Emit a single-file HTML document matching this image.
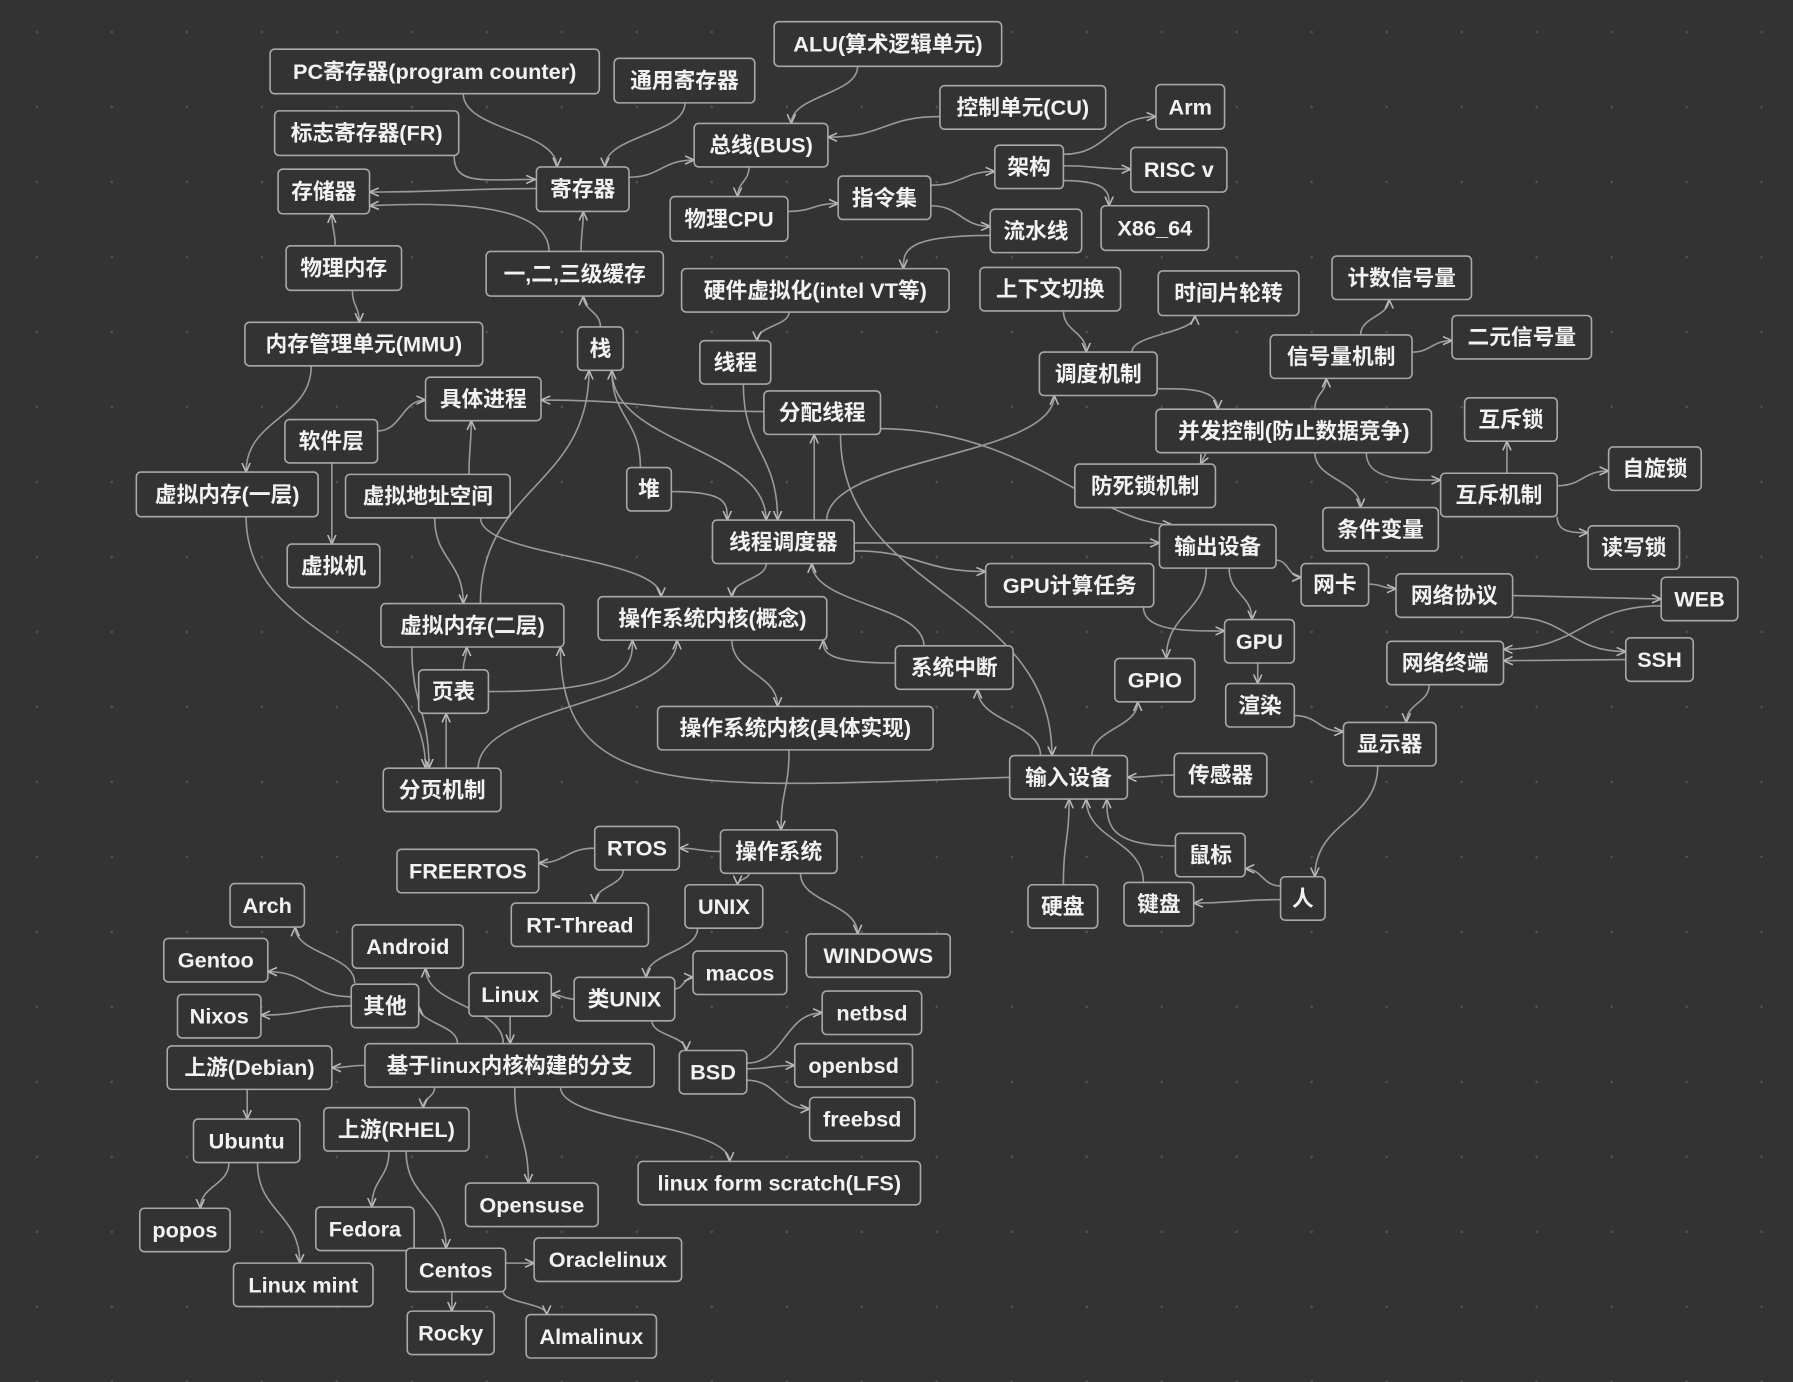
<!DOCTYPE html>
<html><head><meta charset="utf-8">
<style>
html,body{margin:0;padding:0;background:#333333;}
svg{display:block;}
.n rect{fill:#333333;stroke:#a8a8a8;stroke-width:1.4;}
.n text{fill:#f2f2f2;font-family:"Liberation Sans","Noto Sans CJK SC",sans-serif;font-size:19px;font-weight:bold;text-anchor:middle;dominant-baseline:central;}
.e path{fill:none;stroke:#9a9a9a;stroke-width:1.4;}
</style></head>
<body>
<svg width="1793" height="1382" viewBox="0 0 1568 1209" xmlns="http://www.w3.org/2000/svg">
<defs>
<pattern id="dots" width="65.6" height="65.6" patternUnits="userSpaceOnUse" x="-1" y="-5">
<circle cx="33" cy="33" r="1.1" fill="#555"/>
</pattern>
<marker id="ar" viewBox="0 0 10 10" refX="9" refY="5" markerWidth="9" markerHeight="9" markerUnits="userSpaceOnUse" orient="auto">
<path d="M0,1 L9,5 L0,9" fill="none" stroke="#bbb" stroke-width="1.5"/>
</marker>
</defs>
<rect width="1568" height="1209" fill="#333333"/>
<rect width="1568" height="1209" fill="url(#dots)"/>
<g class="e" marker-end="url(#ar)">
<path marker-end="url(#ar)" d="M405 82 C405 114 487 114 487 146"/>
<path marker-end="url(#ar)" d="M599 90 C599 118 529 118 529 146"/>
<path marker-end="url(#ar)" d="M397 136 C397 162 420 157 468 157"/>
<path marker-end="url(#ar)" d="M469 165 C396 165 396 168 323 168"/>
<path marker-end="url(#ar)" d="M480 220 C480 185 420 175 323 180"/>
<path marker-end="url(#ar)" d="M508 220 C508 202 510 202 510 185"/>
<path marker-end="url(#ar)" d="M550 155 C578 155 578 140 607 140"/>
<path marker-end="url(#ar)" d="M750 58 C750 83 692 83 692 108"/>
<path marker-end="url(#ar)" d="M822 102 C773 102 773 120 724 120"/>
<path marker-end="url(#ar)" d="M655 146 C655 159 645 159 645 172"/>
<path marker-end="url(#ar)" d="M689 185 C711 185 711 178 733 178"/>
<path marker-end="url(#ar)" d="M814 162 C842 162 842 150 870 150"/>
<path marker-end="url(#ar)" d="M814 180 C840 180 840 198 866 198"/>
<path marker-end="url(#ar)" d="M930 135 C970 135 970 102 1011 102"/>
<path marker-end="url(#ar)" d="M930 145 C959 145 959 148 989 148"/>
<path marker-end="url(#ar)" d="M930 158 C970 158 970 169 970 180"/>
<path marker-end="url(#ar)" d="M866 206 C790 206 790 220 790 235"/>
<path marker-end="url(#ar)" d="M293 215 C293 201 290 201 290 187"/>
<path marker-end="url(#ar)" d="M308 254 C308 268 314 268 314 282"/>
<path marker-end="url(#ar)" d="M525 286 C525 272 510 272 510 259"/>
<path marker-end="url(#ar)" d="M690 273 C690 285 662 285 662 298"/>
<path marker-end="url(#ar)" d="M272 320 C272 366 215 366 215 413"/>
<path marker-end="url(#ar)" d="M330 377 C351 377 351 350 372 350"/>
<path marker-end="url(#ar)" d="M290 405 L290 476"/>
<path marker-end="url(#ar)" d="M668 360 C570 360 570 350 473 350"/>
<path marker-end="url(#ar)" d="M410 415 C410 391 412 391 412 368"/>
<path marker-end="url(#ar)" d="M930 272 C930 290 950 290 950 308"/>
<path marker-end="url(#ar)" d="M990 308 C990 292 1045 292 1045 276"/>
<path marker-end="url(#ar)" d="M1190 293 C1190 277 1215 277 1215 262"/>
<path marker-end="url(#ar)" d="M1235 308 C1252 308 1252 298 1270 298"/>
<path marker-end="url(#ar)" d="M1012 340 C1040 340 1065 340 1065 358"/>
<path marker-end="url(#ar)" d="M1150 358 C1150 344 1160 344 1160 331"/>
<path marker-end="url(#ar)" d="M1055 396 L1050 406"/>
<path marker-end="url(#ar)" d="M1195 396 C1195 420 1227 420 1260 420"/>
<path marker-end="url(#ar)" d="M1150 396 C1150 420 1190 420 1190 444"/>
<path marker-end="url(#ar)" d="M1318 414 L1318 386"/>
<path marker-end="url(#ar)" d="M1362 425 C1384 425 1384 412 1407 412"/>
<path marker-end="url(#ar)" d="M1362 452 C1362 466 1375 466 1389 466"/>
<path marker-end="url(#ar)" d="M723 455 C723 400 922 400 922 346"/>
<path marker-end="url(#ar)" d="M712 455 L712 380"/>
<path marker-end="url(#ar)" d="M650 336 C650 395 680 395 680 455"/>
<path marker-end="url(#ar)" d="M535 324 C535 390 670 390 670 455"/>
<path marker-end="url(#ar)" d="M587 430 C636 430 636 440 636 455"/>
<path marker-end="url(#ar)" d="M560 409 C560 366 535 366 535 324"/>
<path marker-end="url(#ar)" d="M735 380 C735 520 920 520 920 661"/>
<path marker-end="url(#ar)" d="M747 475 L1014 475"/>
<path marker-end="url(#ar)" d="M747 482 C804 482 804 500 862 500"/>
<path marker-end="url(#ar)" d="M770 375 C897 375 960 459 1025 459"/>
<path marker-end="url(#ar)" d="M1116 490 C1127 490 1127 505 1138 505"/>
<path marker-end="url(#ar)" d="M1075 497 C1075 520 1095 520 1095 542"/>
<path marker-end="url(#ar)" d="M1055 497 C1055 536 1020 536 1020 576"/>
<path marker-end="url(#ar)" d="M1000 531 C1000 552 1035 552 1071 552"/>
<path marker-end="url(#ar)" d="M1197 511 C1209 511 1209 515 1221 515"/>
<path marker-end="url(#ar)" d="M1323 521 L1453 524"/>
<path marker-end="url(#ar)" d="M1323 540 C1372 540 1372 570 1422 570"/>
<path marker-end="url(#ar)" d="M1453 530 C1384 530 1384 568 1315 568"/>
<path marker-end="url(#ar)" d="M1422 577 L1315 578"/>
<path marker-end="url(#ar)" d="M1250 599 C1250 615 1230 615 1230 632"/>
<path marker-end="url(#ar)" d="M1100 580 L1100 598"/>
<path marker-end="url(#ar)" d="M1132 626 C1153 626 1153 640 1175 640"/>
<path marker-end="url(#ar)" d="M1205 670 C1205 718 1150 718 1150 767"/>
<path marker-end="url(#ar)" d="M1120 775 C1104 775 1104 760 1089 760"/>
<path marker-end="url(#ar)" d="M1120 787 C1082 787 1082 790 1044 790"/>
<path marker-end="url(#ar)" d="M1028 740 C968 740 968 720 968 699"/>
<path marker-end="url(#ar)" d="M1000 772 C1000 735 950 735 950 699"/>
<path marker-end="url(#ar)" d="M930 774 C930 736 935 736 935 699"/>
<path marker-end="url(#ar)" d="M1027 678 C1006 678 1006 680 986 680"/>
<path marker-end="url(#ar)" d="M955 661 C955 637 995 637 995 614"/>
<path marker-end="url(#ar)" d="M910 661 C910 632 855 632 855 603"/>
<path marker-end="url(#ar)" d="M808 565 C808 529 710 529 710 493"/>
<path marker-end="url(#ar)" d="M783 580 C720 580 720 570 720 560"/>
<path marker-end="url(#ar)" d="M883 680 C600 690 490 700 490 566"/>
<path marker-end="url(#ar)" d="M670 493 C670 507 640 507 640 522"/>
<path marker-end="url(#ar)" d="M420 453 C420 487 578 487 578 522"/>
<path marker-end="url(#ar)" d="M640 560 C640 589 680 589 680 618"/>
<path marker-end="url(#ar)" d="M690 656 C690 691 683 691 683 726"/>
<path marker-end="url(#ar)" d="M630 745 C612 745 612 742 594 742"/>
<path marker-end="url(#ar)" d="M520 742 C495 742 495 755 471 755"/>
<path marker-end="url(#ar)" d="M545 761 C545 775 520 775 520 790"/>
<path marker-end="url(#ar)" d="M655 764 C655 769 645 769 645 774"/>
<path marker-end="url(#ar)" d="M700 764 C700 790 750 790 750 817"/>
<path marker-end="url(#ar)" d="M610 812 C610 833 565 833 565 855"/>
<path marker-end="url(#ar)" d="M590 865 C598 865 598 855 606 855"/>
<path marker-end="url(#ar)" d="M502 874 C492 874 492 870 482 870"/>
<path marker-end="url(#ar)" d="M570 893 C570 906 600 906 600 919"/>
<path marker-end="url(#ar)" d="M653 930 C686 930 686 886 719 886"/>
<path marker-end="url(#ar)" d="M653 935 C674 935 674 932 695 932"/>
<path marker-end="url(#ar)" d="M653 945 C680 945 680 970 708 970"/>
<path marker-end="url(#ar)" d="M446 889 L446 913"/>
<path marker-end="url(#ar)" d="M400 913 C400 896 366 896 366 880"/>
<path marker-end="url(#ar)" d="M440 913 C440 880 372 880 372 847"/>
<path marker-end="url(#ar)" d="M310 860 C310 835 258 835 258 811"/>
<path marker-end="url(#ar)" d="M307 872 C270 872 270 850 234 850"/>
<path marker-end="url(#ar)" d="M307 880 C267 880 267 888 228 888"/>
<path marker-end="url(#ar)" d="M319 932 C304 932 304 934 290 934"/>
<path marker-end="url(#ar)" d="M380 951 C380 960 370 960 370 969"/>
<path marker-end="url(#ar)" d="M450 951 C450 993 462 993 462 1035"/>
<path marker-end="url(#ar)" d="M490 951 C490 983 638 983 638 1016"/>
<path marker-end="url(#ar)" d="M216 953 L216 979"/>
<path marker-end="url(#ar)" d="M200 1017 C200 1037 175 1037 175 1057"/>
<path marker-end="url(#ar)" d="M225 1017 C225 1061 262 1061 262 1105"/>
<path marker-end="url(#ar)" d="M340 1007 C340 1031 325 1031 325 1056"/>
<path marker-end="url(#ar)" d="M355 1007 C355 1049 390 1049 390 1092"/>
<path marker-end="url(#ar)" d="M442 1105 L467 1105"/>
<path marker-end="url(#ar)" d="M395 1130 L395 1147"/>
<path marker-end="url(#ar)" d="M440 1130 C440 1140 478 1140 478 1150"/>
<path marker-end="url(#ar)" d="M405 586 C405 576 408 576 408 566"/>
<path marker-end="url(#ar)" d="M390 672 L390 624"/>
<path marker-end="url(#ar)" d="M427 605 C553 605 553 582 553 560"/>
<path marker-end="url(#ar)" d="M418 672 C418 616 592 616 592 560"/>
<path marker-end="url(#ar)" d="M420 528 C420 426 515 426 515 324"/>
<path marker-end="url(#ar)" d="M215 452 C215 562 372 562 372 672"/>
<path marker-end="url(#ar)" d="M380 453 C380 490 405 490 405 528"/>
<path marker-end="url(#ar)" d="M360 566 C360 619 375 619 375 672"/>
</g>
<g>
<g class="n"><rect x="677" y="19" width="199" height="39" rx="4"/><text x="776.5" y="38.5">ALU(算术逻辑单元)</text></g>
<g class="n"><rect x="236" y="43" width="288" height="39" rx="4"/><text x="380" y="62.5">PC寄存器(program counter)</text></g>
<g class="n"><rect x="537" y="51" width="123" height="39" rx="4"/><text x="598.5" y="70.5">通用寄存器</text></g>
<g class="n"><rect x="822" y="75" width="145" height="38" rx="4"/><text x="894.5" y="94">控制单元(CU)</text></g>
<g class="n"><rect x="1011" y="74" width="60" height="39" rx="4"/><text x="1041" y="93.5">Arm</text></g>
<g class="n"><rect x="240" y="97" width="161" height="39" rx="4"/><text x="320.5" y="116.5">标志寄存器(FR)</text></g>
<g class="n"><rect x="607" y="108" width="117" height="38" rx="4"/><text x="665.5" y="127">总线(BUS)</text></g>
<g class="n"><rect x="870" y="127" width="60" height="38" rx="4"/><text x="900" y="146">架构</text></g>
<g class="n"><rect x="989" y="129" width="84" height="39" rx="4"/><text x="1031" y="148.5">RISC v</text></g>
<g class="n"><rect x="243" y="148" width="80" height="39" rx="4"/><text x="283" y="167.5">存储器</text></g>
<g class="n"><rect x="469" y="146" width="81" height="39" rx="4"/><text x="509.5" y="165.5">寄存器</text></g>
<g class="n"><rect x="733" y="154" width="81" height="38" rx="4"/><text x="773.5" y="173">指令集</text></g>
<g class="n"><rect x="586" y="172" width="103" height="39" rx="4"/><text x="637.5" y="191.5">物理CPU</text></g>
<g class="n"><rect x="866" y="183" width="80" height="38" rx="4"/><text x="906" y="202">流水线</text></g>
<g class="n"><rect x="963" y="180" width="94" height="39" rx="4"/><text x="1010" y="199.5">X86_64</text></g>
<g class="n"><rect x="250" y="215" width="101" height="39" rx="4"/><text x="300.5" y="234.5">物理内存</text></g>
<g class="n"><rect x="425" y="220" width="155" height="39" rx="4"/><text x="502.5" y="239.5">一,二,三级缓存</text></g>
<g class="n"><rect x="596" y="235" width="234" height="38" rx="4"/><text x="713" y="254">硬件虚拟化(intel VT等)</text></g>
<g class="n"><rect x="857" y="234" width="123" height="38" rx="4"/><text x="918.5" y="253">上下文切换</text></g>
<g class="n"><rect x="1013" y="237" width="123" height="39" rx="4"/><text x="1074.5" y="256.5">时间片轮转</text></g>
<g class="n"><rect x="1165" y="224" width="122" height="38" rx="4"/><text x="1226" y="243">计数信号量</text></g>
<g class="n"><rect x="214" y="282" width="208" height="38" rx="4"/><text x="318" y="301">内存管理单元(MMU)</text></g>
<g class="n"><rect x="505" y="286" width="40" height="38" rx="4"/><text x="525" y="305">栈</text></g>
<g class="n"><rect x="612" y="298" width="62" height="38" rx="4"/><text x="643" y="317">线程</text></g>
<g class="n"><rect x="1111" y="293" width="124" height="38" rx="4"/><text x="1173" y="312">信号量机制</text></g>
<g class="n"><rect x="1270" y="276" width="122" height="38" rx="4"/><text x="1331" y="295">二元信号量</text></g>
<g class="n"><rect x="909" y="308" width="103" height="38" rx="4"/><text x="960.5" y="327">调度机制</text></g>
<g class="n"><rect x="372" y="330" width="101" height="38" rx="4"/><text x="422.5" y="349">具体进程</text></g>
<g class="n"><rect x="668" y="342" width="102" height="38" rx="4"/><text x="719" y="361">分配线程</text></g>
<g class="n"><rect x="249" y="367" width="81" height="38" rx="4"/><text x="289.5" y="386">软件层</text></g>
<g class="n"><rect x="1011" y="358" width="241" height="38" rx="4"/><text x="1131.5" y="377">并发控制(防止数据竞争)</text></g>
<g class="n"><rect x="1281" y="348" width="81" height="38" rx="4"/><text x="1321.5" y="367">互斥锁</text></g>
<g class="n"><rect x="119" y="413" width="159" height="39" rx="4"/><text x="198.5" y="432.5">虚拟内存(一层)</text></g>
<g class="n"><rect x="302" y="415" width="144" height="38" rx="4"/><text x="374" y="434">虚拟地址空间</text></g>
<g class="n"><rect x="548" y="409" width="39" height="38" rx="4"/><text x="567.5" y="428">堆</text></g>
<g class="n"><rect x="940" y="406" width="123" height="38" rx="4"/><text x="1001.5" y="425">防死锁机制</text></g>
<g class="n"><rect x="1407" y="391" width="81" height="38" rx="4"/><text x="1447.5" y="410">自旋锁</text></g>
<g class="n"><rect x="1260" y="414" width="102" height="38" rx="4"/><text x="1311" y="433">互斥机制</text></g>
<g class="n"><rect x="1157" y="444" width="101" height="38" rx="4"/><text x="1207.5" y="463">条件变量</text></g>
<g class="n"><rect x="623" y="455" width="124" height="38" rx="4"/><text x="685" y="474">线程调度器</text></g>
<g class="n"><rect x="1014" y="459" width="102" height="38" rx="4"/><text x="1065" y="478">输出设备</text></g>
<g class="n"><rect x="1389" y="460" width="80" height="38" rx="4"/><text x="1429" y="479">读写锁</text></g>
<g class="n"><rect x="251" y="476" width="81" height="38" rx="4"/><text x="291.5" y="495">虚拟机</text></g>
<g class="n"><rect x="862" y="493" width="147" height="38" rx="4"/><text x="935.5" y="512">GPU计算任务</text></g>
<g class="n"><rect x="1138" y="493" width="59" height="37" rx="4"/><text x="1167.5" y="511.5">网卡</text></g>
<g class="n"><rect x="1221" y="502" width="102" height="38" rx="4"/><text x="1272" y="521">网络协议</text></g>
<g class="n"><rect x="1453" y="505" width="67" height="38" rx="4"/><text x="1486.5" y="524">WEB</text></g>
<g class="n"><rect x="523" y="522" width="200" height="38" rx="4"/><text x="623" y="541">操作系统内核(概念)</text></g>
<g class="n"><rect x="333" y="528" width="160" height="38" rx="4"/><text x="413" y="547">虚拟内存(二层)</text></g>
<g class="n"><rect x="1071" y="542" width="61" height="38" rx="4"/><text x="1101.5" y="561">GPU</text></g>
<g class="n"><rect x="1422" y="558" width="59" height="38" rx="4"/><text x="1451.5" y="577">SSH</text></g>
<g class="n"><rect x="1213" y="561" width="102" height="38" rx="4"/><text x="1264" y="580">网络终端</text></g>
<g class="n"><rect x="783" y="565" width="103" height="38" rx="4"/><text x="834.5" y="584">系统中断</text></g>
<g class="n"><rect x="975" y="576" width="70" height="38" rx="4"/><text x="1010" y="595">GPIO</text></g>
<g class="n"><rect x="366" y="586" width="61" height="38" rx="4"/><text x="396.5" y="605">页表</text></g>
<g class="n"><rect x="1072" y="598" width="60" height="38" rx="4"/><text x="1102" y="617">渲染</text></g>
<g class="n"><rect x="575" y="618" width="241" height="38" rx="4"/><text x="695.5" y="637">操作系统内核(具体实现)</text></g>
<g class="n"><rect x="1175" y="632" width="81" height="38" rx="4"/><text x="1215.5" y="651">显示器</text></g>
<g class="n"><rect x="883" y="661" width="103" height="38" rx="4"/><text x="934.5" y="680">输入设备</text></g>
<g class="n"><rect x="1027" y="659" width="81" height="38" rx="4"/><text x="1067.5" y="678">传感器</text></g>
<g class="n"><rect x="335" y="672" width="103" height="38" rx="4"/><text x="386.5" y="691">分页机制</text></g>
<g class="n"><rect x="520" y="723" width="74" height="38" rx="4"/><text x="557" y="742">RTOS</text></g>
<g class="n"><rect x="630" y="726" width="102" height="38" rx="4"/><text x="681" y="745">操作系统</text></g>
<g class="n"><rect x="347" y="743" width="124" height="38" rx="4"/><text x="409" y="762">FREERTOS</text></g>
<g class="n"><rect x="1028" y="729" width="61" height="38" rx="4"/><text x="1058.5" y="748">鼠标</text></g>
<g class="n"><rect x="1120" y="767" width="39" height="38" rx="4"/><text x="1139.5" y="786">人</text></g>
<g class="n"><rect x="201" y="773" width="65" height="38" rx="4"/><text x="233.5" y="792">Arch</text></g>
<g class="n"><rect x="599" y="774" width="68" height="38" rx="4"/><text x="633" y="793">UNIX</text></g>
<g class="n"><rect x="899" y="774" width="61" height="38" rx="4"/><text x="929.5" y="793">硬盘</text></g>
<g class="n"><rect x="983" y="772" width="61" height="38" rx="4"/><text x="1013.5" y="791">键盘</text></g>
<g class="n"><rect x="447" y="790" width="120" height="38" rx="4"/><text x="507" y="809">RT-Thread</text></g>
<g class="n"><rect x="308" y="809" width="97" height="38" rx="4"/><text x="356.5" y="828">Android</text></g>
<g class="n"><rect x="705" y="817" width="126" height="38" rx="4"/><text x="768" y="836">WINDOWS</text></g>
<g class="n"><rect x="143" y="821" width="91" height="38" rx="4"/><text x="188.5" y="840">Gentoo</text></g>
<g class="n"><rect x="606" y="832" width="82" height="38" rx="4"/><text x="647" y="851">macos</text></g>
<g class="n"><rect x="410" y="851" width="72" height="38" rx="4"/><text x="446" y="870">Linux</text></g>
<g class="n"><rect x="502" y="855" width="88" height="38" rx="4"/><text x="546" y="874">类UNIX</text></g>
<g class="n"><rect x="307" y="861" width="59" height="38" rx="4"/><text x="336.5" y="880">其他</text></g>
<g class="n"><rect x="719" y="867" width="87" height="38" rx="4"/><text x="762.5" y="886">netbsd</text></g>
<g class="n"><rect x="155" y="870" width="73" height="38" rx="4"/><text x="191.5" y="889">Nixos</text></g>
<g class="n"><rect x="146" y="915" width="144" height="38" rx="4"/><text x="218" y="934">上游(Debian)</text></g>
<g class="n"><rect x="319" y="913" width="253" height="38" rx="4"/><text x="445.5" y="932">基于linux内核构建的分支</text></g>
<g class="n"><rect x="594" y="919" width="59" height="38" rx="4"/><text x="623.5" y="938">BSD</text></g>
<g class="n"><rect x="695" y="913" width="103" height="38" rx="4"/><text x="746.5" y="932">openbsd</text></g>
<g class="n"><rect x="708" y="960" width="92" height="38" rx="4"/><text x="754" y="979">freebsd</text></g>
<g class="n"><rect x="169" y="979" width="93" height="38" rx="4"/><text x="215.5" y="998">Ubuntu</text></g>
<g class="n"><rect x="283" y="969" width="127" height="38" rx="4"/><text x="346.5" y="988">上游(RHEL)</text></g>
<g class="n"><rect x="558" y="1016" width="247" height="38" rx="4"/><text x="681.5" y="1035">linux form scratch(LFS)</text></g>
<g class="n"><rect x="407" y="1035" width="116" height="38" rx="4"/><text x="465" y="1054">Opensuse</text></g>
<g class="n"><rect x="122" y="1057" width="79" height="38" rx="4"/><text x="161.5" y="1076">popos</text></g>
<g class="n"><rect x="276" y="1056" width="86" height="38" rx="4"/><text x="319" y="1075">Fedora</text></g>
<g class="n"><rect x="467" y="1083" width="129" height="38" rx="4"/><text x="531.5" y="1102">Oraclelinux</text></g>
<g class="n"><rect x="355" y="1092" width="87" height="38" rx="4"/><text x="398.5" y="1111">Centos</text></g>
<g class="n"><rect x="204" y="1105" width="122" height="38" rx="4"/><text x="265" y="1124">Linux mint</text></g>
<g class="n"><rect x="356" y="1147" width="76" height="38" rx="4"/><text x="394" y="1166">Rocky</text></g>
<g class="n"><rect x="460" y="1150" width="114" height="38" rx="4"/><text x="517" y="1169">Almalinux</text></g>
</g>
</svg>
</body></html>
